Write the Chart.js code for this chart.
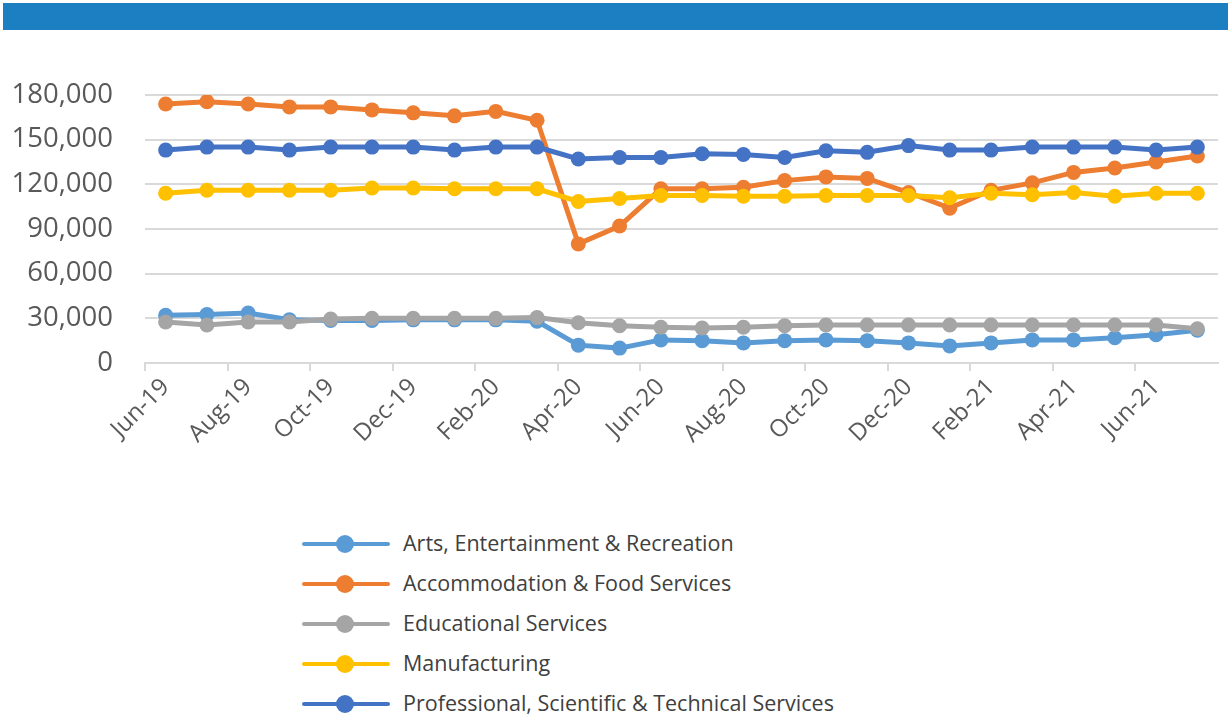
<!DOCTYPE html>
<html>
<head>
<meta charset="utf-8">
<script src="https://cdn.jsdelivr.net/npm/chart.js@4.4.0/dist/chart.umd.min.js"></script>
<style>
  html, body { margin: 0; padding: 0; background: #ffffff; }
  body { width: 1228px; height: 717px; position: relative; overflow: hidden; font-family: "Open Sans", sans-serif; }
  #topbar { position: absolute; left: 3px; top: 3px; width: 1225px; height: 27px; background: #1b7fc1; }
  #chart-wrap { position: absolute; left: 0; top: 30px; width: 1228px; height: 470px; }
  #legend { position: absolute; left: 302px; top: 524px; }
  .legend-row { position: relative; height: 40px; }
  .legend-line { position: absolute; left: 0; top: 18px; width: 88px; height: 4px; border-radius: 2px; }
  .legend-dot { position: absolute; left: 34px; top: 11px; width: 18px; height: 18px; border-radius: 50%; }
  .legend-text { position: absolute; left: 101px; top: 4px; font-size: 21.5px; color: #404040; white-space: nowrap; }
</style>
</head>
<body>
<div id="topbar"></div>
<div id="chart-wrap"><canvas id="line-chart"></canvas></div>
<div id="legend"></div>
<script>
// Month labels (one point per month)
const MONTHS = ["Jun-19", "Jul-19", "Aug-19", "Sep-19", "Oct-19", "Nov-19", "Dec-19", "Jan-20", "Feb-20", "Mar-20", "Apr-20", "May-20", "Jun-20", "Jul-20", "Aug-20", "Sep-20", "Oct-20", "Nov-20", "Dec-20", "Jan-21", "Feb-21", "Mar-21", "Apr-21", "May-21", "Jun-21", "Jul-21"];

// Series values
const ARTS = [32000, 32500, 33500, 29000, 28500, 28500, 29000, 29000, 29000, 28000, 12000, 10000, 15500, 15000, 13500, 15000, 15500, 15000, 13500, 11500, 13500, 15500, 15500, 17000, 19000, 22000];
const ACCOMMODATION = [174000, 175500, 174000, 172000, 172000, 170000, 168000, 166000, 169000, 163000, 80000, 92000, 117000, 117000, 118000, 122500, 125000, 124000, 114500, 104000, 116000, 121000, 128000, 131000, 135000, 139000];
const EDUCATION = [27500, 25500, 27500, 27500, 29500, 30000, 30000, 30000, 30000, 30500, 27000, 25000, 24000, 23500, 24000, 25000, 25500, 25500, 25500, 25500, 25500, 25500, 25500, 25500, 25500, 23000];
const MANUFACTURING = [114000, 116000, 116000, 116000, 116000, 117500, 117500, 117000, 117000, 117000, 108500, 110500, 112500, 112500, 112000, 112000, 112500, 112500, 112500, 111000, 114000, 113000, 114500, 112000, 114000, 114000];
const PROFESSIONAL = [143000, 145000, 145000, 143000, 145000, 145000, 145000, 143000, 145000, 145000, 137000, 138000, 138000, 140500, 140000, 138000, 142500, 141500, 146000, 143000, 143000, 145000, 145000, 145000, 143000, 145000];

const SERIES_LABELS = ["Arts, Entertainment & Recreation", "Accommodation & Food Services", "Educational Services", "Manufacturing", "Professional, Scientific & Technical Services"];
const SERIES_COLORS = ["#5b9bd5", "#ed7d31", "#a5a5a5", "#ffc000", "#4472c4"];
const SERIES_DATA = [ARTS, ACCOMMODATION, EDUCATION, MANUFACTURING, PROFESSIONAL];

const Y_MAX = 180000;
const Y_STEP = 30000;
const GRID_COLOR = "#d9d9d9";
const TICK_COLOR = "#595959";

// Build one line dataset per series; later series are drawn on top
const createLineDataset = (label, color, data, order) => {
  return {
    label,
    data,
    order,
    borderColor: color,
    backgroundColor: color,
    borderWidth: 5,
    pointRadius: 7.5,
    pointBorderWidth: 0,
    pointBackgroundColor: color,
    tension: 0,
    fill: false,
  };
};

const datasets = SERIES_LABELS.map((label, i) => createLineDataset(label, SERIES_COLORS[i], SERIES_DATA[i], SERIES_LABELS.length - i));

const lineChart = new Chart(document.getElementById("line-chart"), {
  type: "line",
  data: { labels: MONTHS, datasets },
  options: {
    responsive: true,
    maintainAspectRatio: false,
    animation: false,
    layout: { padding: { top: 65, right: 10, bottom: 7, left: 0 } },
    plugins: {
      legend: { display: false },
      tooltip: { enabled: false },
    },
    scales: {
      x: {
        offset: true,
        grid: {
          offset: true,
          drawOnChartArea: false,
          drawTicks: true,
          tickLength: 8,
          lineWidth: 2,
          color: (ctx) => (ctx.index % 2 === 0 ? GRID_COLOR : "rgba(0,0,0,0)"),
        },
        border: { display: true, color: GRID_COLOR, width: 2 },
        ticks: {
          autoSkip: false,
          minRotation: 45,
          maxRotation: 45,
          padding: 2,
          color: TICK_COLOR,
          font: { family: "'Open Sans', sans-serif", size: 24 },
          callback: (value, index) => (index % 2 === 0 ? MONTHS[index] : ""),
        },
        afterFit: (scale) => {
          scale.height = 130;
        },
      },
      y: {
        min: 0,
        max: Y_MAX,
        grid: { color: GRID_COLOR, lineWidth: 2, drawTicks: false },
        border: { display: false },
        ticks: {
          stepSize: Y_STEP,
          padding: 32,
          color: TICK_COLOR,
          font: { family: "'Open Sans', sans-serif", size: 27.5 },
          callback: (value) => value.toLocaleString("en-US"),
        },
        afterFit: (scale) => {
          scale.width = 145;
        },
      },
    },
  },
});

// HTML legend built from the chart datasets, one item per row
const legendEl = document.getElementById("legend");
lineChart.data.datasets.forEach((ds) => {
  const row = document.createElement("div");
  row.className = "legend-row";
  const line = document.createElement("div");
  line.className = "legend-line";
  line.style.background = ds.borderColor;
  const dot = document.createElement("div");
  dot.className = "legend-dot";
  dot.style.background = ds.borderColor;
  const text = document.createElement("div");
  text.className = "legend-text";
  text.textContent = ds.label;
  row.appendChild(line);
  row.appendChild(dot);
  row.appendChild(text);
  legendEl.appendChild(row);
});
</script>
</body>
</html>
